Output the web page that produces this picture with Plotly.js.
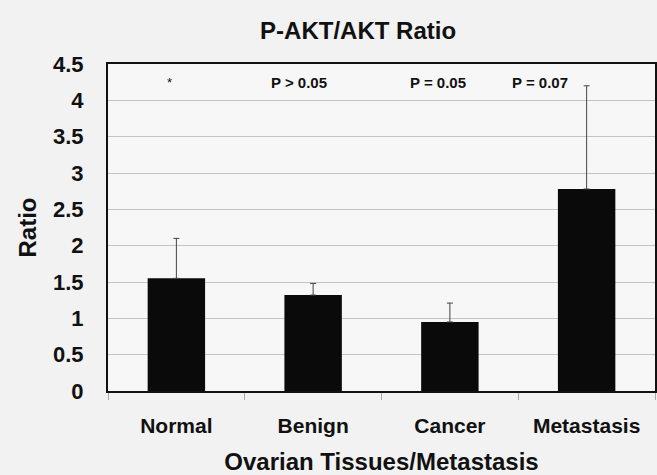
<!DOCTYPE html>
<html>
<head>
<meta charset="utf-8">
<script src="https://cdn.plot.ly/plotly-3.0.1.min.js"></script>
<style>html,body{margin:0;padding:0;background:#f2f2f2;}#chart{width:657px;height:475px;}</style>
</head>
<body>
<div id="chart"></div>
<script>
const categories = ["Normal", "Benign", "Cancer", "Metastasis"];
const ratioValues = [1.55, 1.32, 0.95, 2.78];
const errorUp = [0.55, 0.16, 0.26, 1.42];
const pLabels = ["*", "P > 0.05", "P = 0.05", "P = 0.07"];
const pLabelX = [-0.05, 0.9, 1.91, 2.66];
const pLabelY = 4.24;
const yTicks = [0, 0.5, 1, 1.5, 2, 2.5, 3, 3.5, 4, 4.5];

const font = "Arial, 'Liberation Sans', sans-serif";

const trace = {
  type: "bar",
  x: categories,
  y: ratioValues,
  width: 0.42,
  marker: {color: "#0a0a0a", line: {width: 0}},
  error_y: {type: "data", symmetric: false, array: errorUp, arrayminus: errorUp.map(() => 0),
            color: "#444", thickness: 1, width: 3},
  hoverinfo: "x+y"
};

const annotations = pLabels.map((t, i) => ({
  x: pLabelX[i], y: pLabelY, xref: "x", yref: "y", text: t, showarrow: false,
  font: {family: font, size: i === 0 ? 13 : 15, color: "#111", weight: i === 0 ? "normal" : "bold"}
}));

const layout = {
  width: 657, height: 475,
  paper_bgcolor: "#f2f2f2", plot_bgcolor: "#f7f7f7",
  margin: {l: 108, r: 2, t: 64, b: 84},
  showlegend: false,
  title: {text: "<b>P-AKT/AKT Ratio</b>", x: 0.545, xanchor: "center", y: 0.935, yanchor: "middle",
          font: {family: font, size: 24, color: "#111"}},
  xaxis: {
    type: "category", range: [-0.5, 3.5],
    showline: true, linecolor: "#111", linewidth: 2, mirror: true,
    ticks: "outside", tickson: "boundaries", ticklen: 7, tickcolor: "#aaa", tickwidth: 1,
    ticklabelstandoff: 15,
    tickfont: {family: font, size: 21, color: "#111", weight: "bold"},
    showgrid: false, zeroline: false,
    title: {text: "<b>Ovarian Tissues/Metastasis</b>", standoff: 18, font: {family: font, size: 24, color: "#111"}}
  },
  yaxis: {
    range: [0, 4.5], tickvals: yTicks, ticktext: yTicks.map(String),
    showline: true, linecolor: "#111", linewidth: 2, mirror: true,
    ticks: "", ticklabelstandoff: 18,
    tickfont: {family: font, size: 22, color: "#111", weight: "bold"},
    showgrid: true, gridcolor: "#c4c4c4", gridwidth: 1, zeroline: false,
    title: {text: "<b>Ratio</b>", standoff: 10, font: {family: font, size: 24, color: "#111"}}
  },
  annotations: annotations
};

Plotly.newPlot("chart", [trace], layout, {displayModeBar: false, staticPlot: true});
</script>
</body>
</html>
